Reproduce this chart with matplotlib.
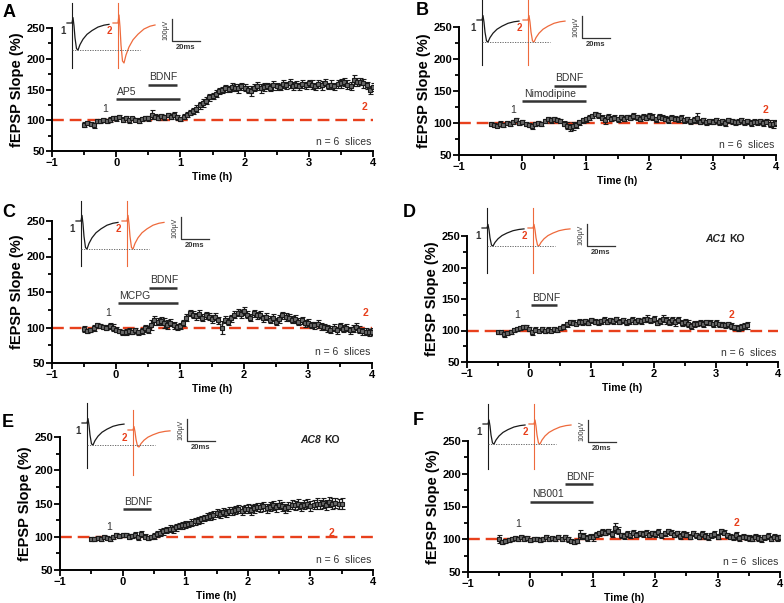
import numpy as np
import matplotlib
matplotlib.use("Agg")
import matplotlib.pyplot as plt

plt.rcParams['font.family'] = ['Liberation Sans', 'DejaVu Sans']

# time grid (h), one point every 3 min
t_long = np.linspace(-0.5, 4.0, 91)
t_short = np.linspace(-0.5, 3.5, 81)

# fEPSP slope (%), rows of 10 points = 30 min
slope_A = [93, 96, 94, 92, 98, 99, 100, 99, 101, 104,
           103, 105, 101, 104, 100, 103, 101, 99, 102, 104,
           103, 109, 106, 104, 107, 105, 108, 106, 109, 105,
           102, 106, 109, 112, 115, 119, 124, 128, 132, 137,
           140, 143, 147, 149, 152, 151, 154, 153, 152, 155,
           153, 150, 148, 153, 156, 152, 154, 156, 153, 157,
           155, 154, 159, 157, 160, 156, 158, 155, 159, 157,
           160, 158, 155, 159, 157, 161, 156, 158, 155, 159,
           160, 162, 158, 156, 165, 162, 163, 160, 157, 149,
           154]
err_A = [4, 3, 3, 4, 3, 3, 3, 3, 4, 3,
         4, 3, 4, 3, 4, 3, 3, 4, 3, 3,
         4, 7, 4, 4, 3, 4, 3, 4, 4, 4,
         3, 4, 4, 4, 5, 5, 5, 6, 5, 5,
         5, 6, 5, 5, 6, 5, 6, 6, 7, 6,
         6, 5, 8, 6, 6, 7, 6, 5, 6, 7,
         6, 5, 7, 6, 7, 6, 6, 5, 7, 6,
         6, 7, 6, 6, 7, 6, 5, 7, 6, 6,
         7, 6, 7, 6, 9, 7, 6, 7, 6, 6,
         6]

slope_B = [99, 97, 96, 99, 97, 100, 99, 102, 105, 100,
           101, 99, 97, 95, 98, 100, 99, 103, 106, 104,
           106, 105, 103, 99, 96, 93, 95, 97, 101, 104,
           106, 108, 111, 114, 112, 108, 104, 110, 107, 108,
           106, 109, 107, 110, 108, 111, 109, 107, 110, 108,
           111, 109, 106, 110, 108, 107, 105, 108, 107, 106,
           108, 104, 106, 103, 105, 108, 102, 104, 101, 103,
           102, 104, 101, 103, 100, 104, 103, 101, 102, 104,
           101, 103, 100, 102, 101, 103, 100, 102, 99, 98,
           100]
err_B = [3, 3, 3, 4, 3, 3, 3, 3, 3, 3,
         3, 3, 3, 4, 3, 3, 3, 3, 3, 4,
         3, 3, 3, 4, 5, 6, 6, 5, 4, 4,
         4, 4, 3, 3, 4, 4, 5, 4, 4, 4,
         4, 4, 4, 3, 4, 4, 4, 4, 4, 4,
         4, 5, 4, 4, 4, 4, 5, 4, 4, 4,
         4, 4, 4, 4, 5, 8, 4, 4, 4, 4,
         4, 4, 4, 4, 4, 4, 4, 4, 4, 4,
         4, 4, 4, 4, 4, 4, 4, 4, 5, 6,
         4]

slope_C = [98, 95, 97, 99, 103, 102, 101, 100, 102, 100,
           97, 95, 93, 94, 95, 94, 96, 93, 95, 99,
           97, 104, 110, 108, 109, 106, 104, 107, 103, 101,
           102, 106, 114, 120, 118, 116, 119, 114, 117, 115,
           112, 115, 110, 100, 111, 108, 113, 118, 121, 119,
           123, 118, 114, 120, 117, 118, 113, 115, 111, 114,
           108, 112, 117, 115, 114, 111, 112, 108, 110, 106,
           107, 104, 103, 105, 102, 101, 99, 97, 100, 96,
           102, 98, 100, 96, 98, 101, 97, 95, 94, 93,
           94]
err_C = [4, 3, 3, 4, 4, 3, 3, 4, 4, 5,
         4, 3, 4, 4, 4, 3, 4, 4, 4, 5,
         5, 7, 6, 5, 6, 7, 6, 5, 5, 4,
         4, 4, 5, 4, 5, 5, 5, 5, 5, 5,
         5, 5, 5, 9, 5, 5, 5, 5, 5, 6,
         6, 5, 5, 5, 5, 5, 5, 5, 5, 5,
         5, 5, 5, 6, 5, 5, 5, 5, 5, 5,
         5, 4, 5, 5, 5, 4, 5, 5, 5, 5,
         5, 5, 5, 5, 5, 5, 5, 5, 5, 5,
         5]

slope_D = [98, 97, 94, 96, 98, 101, 103, 104, 106, 105,
           103, 97, 101, 100, 102, 99, 101, 100, 102, 101,
           104, 106, 110, 113, 112, 111, 114, 113, 115, 112,
           116, 114, 113, 115, 117, 114, 116, 115, 118, 114,
           116, 113, 115, 117, 114, 116, 115, 117, 119, 116,
           118, 112, 115, 119, 116, 114, 116, 113, 117, 112,
           114, 111, 107, 110, 111, 112, 110, 113, 112, 110,
           112, 110, 109, 108, 110, 107, 105, 104, 106, 107,
           108]
err_D = [3, 3, 4, 3, 3, 3, 3, 3, 3, 3,
         3, 4, 4, 3, 4, 3, 4, 3, 4, 3,
         3, 4, 4, 4, 4, 3, 4, 4, 4, 4,
         4, 4, 4, 4, 4, 4, 4, 4, 4, 4,
         4, 4, 4, 4, 4, 4, 4, 4, 5, 4,
         5, 4, 5, 5, 6, 5, 5, 6, 5, 5,
         5, 5, 5, 5, 4, 4, 5, 4, 4, 4,
         4, 4, 4, 4, 4, 5, 4, 5, 5, 5,
         5]

slope_E = [97, 96, 98, 97, 99, 98, 97, 100, 102, 101,
           103, 102, 100, 101, 103, 99, 104, 100, 98, 99,
           101, 104, 106, 108, 110, 112, 111, 114, 116, 117,
           118, 119, 121, 123, 124, 126, 128, 130, 131, 133,
           135, 134, 137, 136, 139, 138, 140, 141, 139, 142,
           142, 140, 143, 145, 144, 146, 143, 145, 147, 144,
           148, 146, 143, 145, 148, 147, 149, 146, 148, 150,
           146, 148, 150, 149, 151, 148, 152, 150, 151, 149,
           150]
err_E = [3, 3, 3, 3, 3, 3, 3, 3, 3, 3,
         3, 3, 4, 3, 4, 4, 4, 4, 3, 3,
         4, 4, 5, 5, 5, 5, 5, 5, 5, 5,
         5, 5, 5, 5, 5, 5, 5, 5, 6, 6,
         6, 6, 6, 6, 6, 6, 6, 6, 7, 6,
         7, 7, 7, 6, 7, 7, 7, 7, 7, 7,
         7, 7, 7, 7, 7, 7, 8, 7, 7, 7,
         8, 7, 8, 7, 8, 8, 8, 8, 8, 8,
         8]

slope_F = [100, 96, 97, 99, 100, 102, 101, 103, 101, 102,
           99, 101, 100, 99, 101, 103, 101, 102, 100, 103,
           101, 103, 100, 98, 96, 97, 107, 105, 102, 104,
           103, 107, 109, 111, 110, 112, 108, 117, 113, 106,
           105, 108, 106, 110, 107, 109, 108, 110, 107, 109,
           108, 111, 106, 109, 112, 110, 107, 109, 105, 108,
           107, 104, 109, 106, 104, 108, 105, 103, 106, 108,
           104, 112, 110, 106, 104, 103, 106, 102, 104, 103,
           102, 101, 104, 102, 100, 103, 105, 101, 104, 102,
           103]
err_F = [6, 3, 3, 3, 3, 3, 3, 3, 4, 3,
         3, 3, 3, 3, 3, 3, 3, 3, 3, 3,
         3, 3, 4, 3, 3, 3, 7, 4, 4, 4,
         5, 4, 4, 4, 4, 4, 4, 8, 5, 4,
         4, 4, 4, 4, 4, 4, 4, 4, 4, 4,
         4, 4, 4, 4, 4, 4, 4, 4, 4, 4,
         4, 4, 4, 4, 4, 4, 4, 4, 4, 4,
         4, 4, 4, 4, 4, 4, 5, 4, 4, 4,
         4, 4, 4, 4, 4, 4, 4, 4, 4, 4,
         4]

# drug application bars: (label, start h, end h, y level)
drugs_A = [("AP5", 0.0, 1.0, 134), ("BDNF", 0.5, 0.95, 158)]
drugs_B = [("Nimodipine", 0.0, 1.0, 134), ("BDNF", 0.5, 1.0, 158)]
drugs_C = [("MCPG", 0.03, 0.97, 134), ("BDNF", 0.52, 0.95, 156)]
drugs_D = [("BDNF", 0.03, 0.45, 140)]
drugs_E = [("BDNF", 0.0, 0.45, 141)]
drugs_F = [("NB001", 0.0, 1.0, 157), ("BDNF", 0.55, 1.0, 184)]

# example trace shape (x offset in px, relative amplitude)
wave_x = [0, 5, 6, 7, 8, 9.5, 11, 13, 16, 20, 25, 31, 37, 42]
wave_y = [0, 0, 0.2, -0.1, -0.55, -0.95, -1.0, -0.8, -0.6, -0.42, -0.28, -0.15, -0.08, -0.05]

BLACK = "#1a1a1a"
RED = "#e8401c"
TRACE_RED = "#ee6a3c"

W, H = 784, 603
fig = plt.figure(figsize=(W / 100, H / 100), dpi=100)

# name, left, right, top, bottom (px), t, slope, err, drugs, pos1, pos2, genotype, inset, letter
panels = [
    ("A", 52, 373, 28, 151, t_long, slope_A, err_A, drugs_A, (-0.17, 118), (3.87, 121), None, (67, 23, 27, 23, 40), (3, 4)),
    ("B", 459, 776, 27, 155, t_long, slope_B, err_B, drugs_B, (-0.15, 120), (3.83, 120), None, (477, 20, 22, 20, 22), (416, 2)),
    ("C", 52, 372, 221, 363, t_long, slope_C, err_C, drugs_C, (-0.12, 120), (3.9, 121), None, (76, 221, 28, 221, 28), (2, 204)),
    ("D", 467, 778, 236, 362, t_short, slope_D, err_D, drugs_D, (-0.2, 124), (3.25, 125), "AC1", (482, 228, 18, 228, 18), (403, 204)),
    ("E", 60, 373, 437, 570, t_short, slope_E, err_E, drugs_E, (-0.21, 114), (3.33, 105), "AC8", (82, 423, 22, 430, 17), (2, 414)),
    ("F", 468, 780, 441, 572, t_long, slope_F, err_F, drugs_F, (-0.2, 124), (3.3, 125), None, (483, 424, 20, 424, 20), (413, 412)),
]

for (name, l, r, top, bot, t, y, e, drugs, p1, p2, geno, ins, lab) in panels:
    ax = fig.add_axes([l / W, 1 - bot / H, (r - l) / W, (bot - top) / H])
    ax.set_xlim(-1, 4)
    ax.set_ylim(50, 250)
    ax.axhline(100, color=RED, lw=1.7, ls=(0, (5, 2.5)), zorder=1)
    ax.errorbar(t, y, yerr=e, fmt='-s', color=BLACK, lw=0.7, ms=3.3,
                mfc='#6a6a6a', mec=BLACK, mew=0.8, elinewidth=0.9,
                capsize=1.8, capthick=0.9, zorder=3)
    for (txt, s, f, yy) in drugs:
        ax.plot([s, f], [yy, yy], color="#333333", lw=1.8, solid_capstyle='butt')
        ax.text(s + 0.02, yy + 4, txt, fontsize=7.5, color="#333333", ha='left', va='bottom')
    ax.text(p1[0], p1[1], "1", fontsize=7.5, color="#333333", ha='center', va='center')
    ax.text(p2[0], p2[1], "2", fontsize=7.5, color=RED, ha='center', va='center', fontweight='bold')
    ax.text(3.97, 65, "n = 6  slices", fontsize=7.5, color="#333333", ha='right', va='center')
    if geno:
        ax.text(3.17, 246, geno, fontsize=7.5, color="#222222", ha='right', va='center',
                fontstyle='italic', fontweight='bold')
        ax.text(3.22, 246, "KO", fontsize=7.5, color="#222222", ha='left', va='center',
                fontweight='bold')
    ax.spines['top'].set_visible(False)
    ax.spines['right'].set_visible(False)
    for s in ['left', 'bottom']:
        ax.spines[s].set_linewidth(1.4)
    ax.set_xticks([-1, 0, 1, 2, 3, 4])
    ax.set_xticks([-0.5, 0.5, 1.5, 2.5, 3.5], minor=True)
    ax.set_yticks([50, 100, 150, 200, 250])
    ax.set_yticks([75, 125, 175, 225], minor=True)
    ax.tick_params(which='major', length=4, width=1.3, labelsize=8, pad=1)
    ax.tick_params(which='minor', length=3, width=1.3)
    for lbl in ax.get_xticklabels() + ax.get_yticklabels():
        lbl.set_fontweight('bold')
    ax.set_xlabel("Time (h)", fontsize=7.5, fontweight='bold', labelpad=3)
    ax.set_ylabel("fEPSP Slope (%)", fontsize=10.5, fontweight='bold', labelpad=2)
    fig.text(lab[0] / W, 1 - lab[1] / H, name, fontsize=13, fontweight='bold', ha='left', va='top')

# overlay in pixel coordinates for the example traces
ov = fig.add_axes([0, 0, 1, 1], zorder=5)
ov.set_xlim(0, W)
ov.set_ylim(H, 0)
ov.axis('off')
for (name, l, r, top, bot, t, y, e, drugs, p1, p2, geno, ins, lab) in panels:
    x0, b1, a1, b2, a2 = ins
    for (dx, base, amp, col, num) in [(0, b1, a1, BLACK, "1"), (46, b2, a2, TRACE_RED, "2")]:
        xs = [x0 + dx + v for v in wave_x]
        ys = [base - v * amp for v in wave_y]
        ov.plot(xs, ys, color=col, lw=0.9)
        ov.plot([x0 + dx + 5, x0 + dx + 5], [base - 20, base + 45], color=col, lw=0.8)
        ov.text(x0 + dx - 1, base + 8, num, fontsize=7, ha='right', va='center',
                color=("#333333" if num == "1" else RED), fontweight='bold')
    ov.plot([x0 + 5, x0 + 73], [b1 + a1, b1 + a1], color="#555555", lw=0.6, ls=(0, (1.5, 1.5)))
    sx = x0 + 105
    ov.plot([sx, sx, sx + 28], [b1 - 4, b1 + 18, b1 + 18], color="#333333", lw=0.9)
    ov.text(sx - 3, b1 + 7, "100μV", fontsize=5, rotation=90, ha='right', va='center', color="#333333")
    ov.text(sx + 14, b1 + 21, "20ms", fontsize=5.5, ha='center', va='top', color="#333333", fontweight='bold')

fig.savefig("out.png", dpi=100)
